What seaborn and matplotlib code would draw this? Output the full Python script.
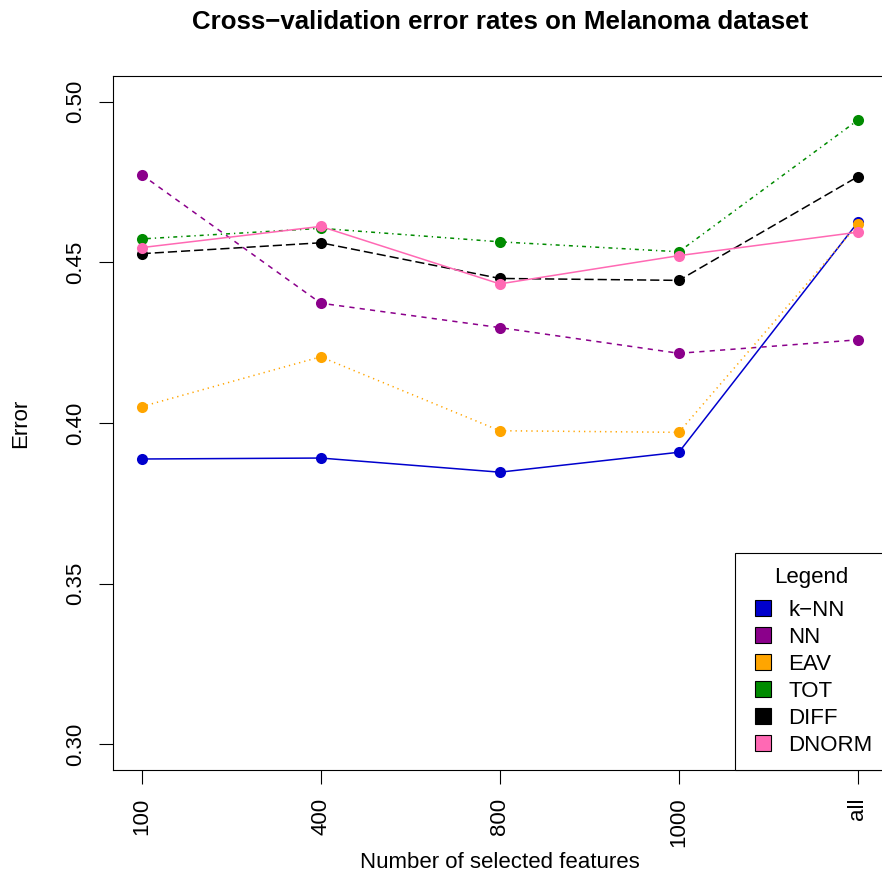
import matplotlib
matplotlib.use("Agg")
import matplotlib.pyplot as plt
from matplotlib.lines import Line2D
import numpy as np
import pandas as pd
import seaborn as sns

# Feature-subset sizes (x axis categories)
features = ["100", "400", "800", "1000", "all"]

# Cross-validation error per method
knn = [0.3888, 0.3891, 0.3847, 0.3909, 0.4625]
nn = [0.4773, 0.4373, 0.4297, 0.4217, 0.4259]
eav = [0.4051, 0.4206, 0.3976, 0.3971, 0.4618]
tot = [0.4573, 0.4606, 0.4564, 0.4533, 0.4943]
diff = [0.4527, 0.4561, 0.4450, 0.4444, 0.4767]
dnorm = [0.4546, 0.4612, 0.4433, 0.4521, 0.4594]

methods = ["k\u2212NN", "NN", "EAV", "TOT", "DIFF", "DNORM"]
series = [knn, nn, eav, tot, diff, dnorm]
colors = ["#0000CD", "#8B008B", "#FFA500", "#008B00", "#000000", "#FF69B4"]
dash_styles = ["", (3.4, 3.4), (0.85, 2.6), (0.85, 2.6, 2.6, 2.6), (6.0, 2.6), ""]

rows = []
for m, vals in zip(methods, series):
    for i, v in enumerate(vals):
        rows.append({"method": m, "pos": i + 1, "error": v})
df = pd.DataFrame(rows)

sns.set_style("ticks")
plt.rcParams["font.family"] = ["Liberation Sans", "DejaVu Sans"]
plt.rcParams["text.color"] = "black"
plt.rcParams["axes.labelcolor"] = "black"
plt.rcParams["xtick.color"] = "black"
plt.rcParams["ytick.color"] = "black"

fig = plt.figure(figsize=(8.82, 8.76), dpi=100)
ax = fig.add_axes([0.1281, 0.1210, 0.8771, 0.7922])

sns.lineplot(
    data=df, x="pos", y="error",
    hue="method", style="method",
    hue_order=methods, style_order=methods,
    palette=dict(zip(methods, colors)),
    dashes=dict(zip(methods, dash_styles)),
    markers={m: "o" for m in methods},
    markersize=8, markeredgewidth=0, linewidth=1.1,
    errorbar=None, legend=False, ax=ax,
)

ax.set_xlim(0.84, 5.16)
ax.set_ylim(0.292, 0.508)
ax.set_xticks(range(1, len(features) + 1))
ax.set_xticklabels(features)
ax.set_yticks([0.30, 0.35, 0.40, 0.45, 0.50])
ax.set_yticklabels(["0.30", "0.35", "0.40", "0.45", "0.50"])

ax.tick_params(axis="both", direction="out", length=10, width=0.8,
               labelsize=16, color="black", labelcolor="black")
ax.tick_params(axis="x", labelrotation=90, pad=10)
ax.tick_params(axis="y", labelrotation=90, pad=9)
for lab in ax.get_yticklabels():
    lab.set_va("center")

for sp in ax.spines.values():
    sp.set_visible(True)
    sp.set_color("black")
    sp.set_linewidth(0.8)

ax.set_xlabel("Number of selected features", fontsize=16, color="black")
ax.set_ylabel("Error", fontsize=16, color="black")
ax.xaxis.set_label_coords(0.5, -0.134)
ax.xaxis.label.set_va("center")
ax.yaxis.set_label_coords(-0.120, 0.5)
ax.yaxis.label.set_va("center")

ax.set_title("Cross\u2212validation error rates on Melanoma dataset",
             fontsize=18.6, fontweight="bold", y=1.078, pad=0, va="center",
             color="black")

handles = [Line2D([], [], linestyle="none", marker="s", markersize=11.5,
                  markerfacecolor=c, markeredgecolor="black", markeredgewidth=0.8)
           for c in colors]
leg = ax.legend(handles, methods, title="Legend", loc="lower right",
                bbox_to_anchor=(1.0, 0.0), borderaxespad=0, fontsize=16,
                title_fontsize=16, fancybox=False, framealpha=1,
                edgecolor="black", borderpad=0.63, handlelength=1.26,
                handletextpad=0.5, labelspacing=0.27, labelcolor="black")
leg.get_frame().set_linewidth(0.8)
leg.get_title().set_color("black")
# extra room between the legend title and its entries
leg._legend_box.sep = 0.27 * 16 + 4.3

fig.savefig("out.png", dpi=100)
